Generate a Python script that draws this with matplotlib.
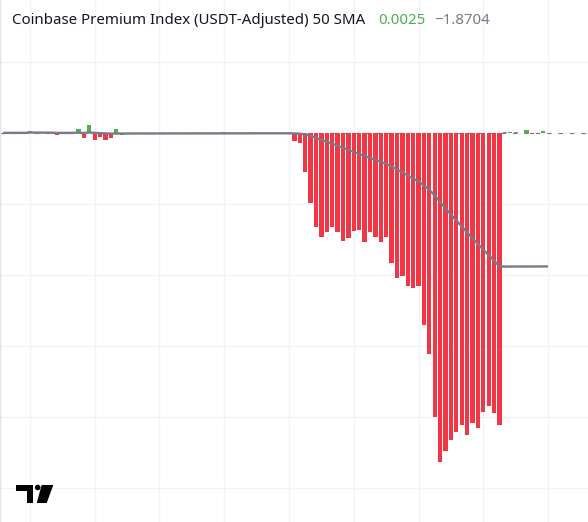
import matplotlib
matplotlib.use("Agg")
import matplotlib.pyplot as plt
import matplotlib.patches as mpatches
from matplotlib.transforms import IdentityTransform
import numpy as np
import pandas as pd

# premium index per bar, index 0..101
premium = [
    0.0, 0.004, 0.0, 0.003, 0.0, 0.03, 0.0, 0.003, 0.0, 0.0,
    -0.03, 0.0, 0.004, 0.0, 0.05, -0.065, 0.117, -0.094, -0.06, -0.094,
    -0.075, 0.05, -0.03, 0.0, 0.003, 0.0, 0.0, -0.02, 0.0, 0.0,
    0.003, 0.0, 0.0, -0.02, 0.0, 0.0, 0.003, 0.0, -0.02, 0.0,
    0.0, 0.01, 0.0, 0.004, 0.0, 0.0, 0.003, 0.0, 0.0, 0.004,
    0.0, 0.003, 0.0, 0.0, -0.12, -0.14, -0.545, -0.98, -1.33, -1.46,
    -1.39, -1.32, -1.40, -1.52, -1.48, -1.38, -1.36, -1.54, -1.39, -1.47,
    -1.53, -1.46, -1.83, -2.05, -2.02, -2.15, -2.19, -2.16, -2.70, -3.11,
    -4.00, -4.63, -4.48, -4.32, -4.21, -4.12, -4.26, -4.08, -4.15, -3.93,
    -3.85, -3.94, -4.12, 0.02, 0.008, 0.01, 0.006, 0.04, -0.02, 0.005,
    0.03, 0.0025,
]
sma_len = 50
title = "Coinbase Premium Index (USDT-Adjusted) 50 SMA"
last_val = "0.0025"
last_sma = "\u22121.8704"

RED = "#f23645"
GREEN = "#4caf50"
GRAY = "#787b86"
GRID = "#f0f3fa"

plt.rcParams["lines.scale_dashes"] = False

vals = np.array(premium)
idx = np.arange(len(vals))
sma = pd.Series(vals).rolling(sma_len, min_periods=1).mean()
colors = [GREEN if v >= 0 else RED for v in vals]

fig = plt.figure(figsize=(5.88, 5.22), dpi=100)
ax = fig.add_axes([0, 0, 1, 1])

ax.axhline(0, color=GRAY, lw=0.8, dashes=(3.2, 5.0), zorder=1)
ax.bar(idx, vals, width=0.8, color=colors, zorder=2)
ax.plot(idx, sma, color=GRAY, lw=1.7, zorder=3, solid_capstyle="butt")

ax.set_xlim(-0.55, 108.4)
ax.set_ylim(-5.48, 1.873)
ax.set_xticks(np.arange(5, 102, 12))
ax.set_yticks(np.arange(-5, 2, 1))
ax.grid(True, color=GRID, lw=1, zorder=0)
ax.set_axisbelow(True)
ax.tick_params(length=0, labelbottom=False, labelleft=False)
for s in ["right", "bottom", "top"]:
    ax.spines[s].set_visible(False)
ax.spines["left"].set_color("#e0e3eb")
ax.spines["left"].set_linewidth(1)

# legend text
ty = 1 - 20 / 522
fig.text(12 / 588, ty, title, fontsize=10.8, family="Noto Sans", color="#131722", va="center")
fig.text(378 / 588, ty, last_val, fontsize=10.8, family="Noto Sans", color=GREEN, va="center")
fig.text(434 / 588, ty, last_sma, fontsize=10.8, family="Noto Sans", color=GRAY, va="center")

# TradingView logo, in pixels (origin bottom-left)
H = 522
tr = IdentityTransform()
logo = [
    mpatches.Polygon([(16, H - 485), (33.3, H - 485), (33.3, H - 503), (26.7, H - 503),
                      (26.7, H - 490.7), (16, H - 490.7)], closed=True),
    mpatches.Circle((37.7, H - 487.5), 2.8),
    mpatches.Polygon([(41.7, H - 485), (53.3, H - 485), (46.7, H - 503), (36.7, H - 503)], closed=True),
]
for p in logo:
    p.set_transform(tr)
    p.set_facecolor("#000000")
    p.set_edgecolor("none")
    fig.patches.append(p)

fig.savefig("out.png", dpi=100)
